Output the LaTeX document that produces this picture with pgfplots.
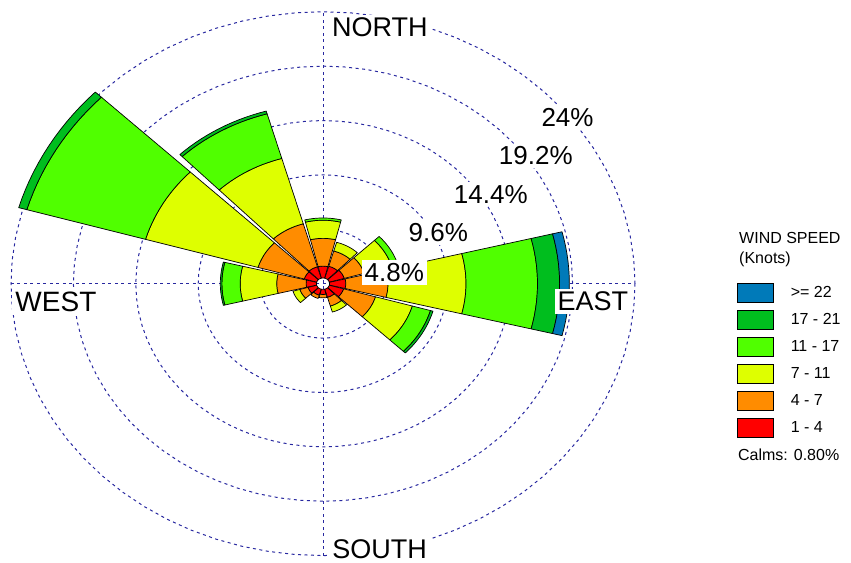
\documentclass[border=0pt]{standalone}
\usepackage{fontspec}
\setmainfont{Liberation Sans}
\usepackage{pgfplots}
\usepackage{pgfplotstable}
\pgfplotsset{compat=1.18}

\definecolor{bin1}{RGB}{255,0,0}
\definecolor{bin2}{RGB}{255,140,0}
\definecolor{bin3}{RGB}{222,255,0}
\definecolor{bin4}{RGB}{80,255,0}
\definecolor{bin5}{RGB}{0,190,30}
\definecolor{bin6}{RGB}{0,122,185}
\definecolor{gridblue}{RGB}{40,40,160}
\tikzset{gridline/.style={color=gridblue, line width=1pt, dash pattern=on 3pt off 3.5pt}}

% cumulative radius (%) of each speed class, direction in degrees clockwise from north
\pgfplotstableread{
dir r1 r2 r3 r4 r5 r6
0   1.55 4.0  5.6  5.8  5.8   5.8
30  1.6  3.0  3.8  3.8  3.8   3.8
60  1.7  3.3  5.5  6.0  6.0   6.0
90  1.75 5.0  11.0 16.5 18.2  18.95
120 1.65 4.2  7.15 8.6  8.8   8.8
150 1.25 2.05 2.6  2.6  2.6   2.6
180 0.95 1.25 1.25 1.25 1.25  1.25
210 1.05 1.35 1.35 1.35 1.35  1.35
240 1.2  1.85 2.4  2.4  2.4   2.4
270 1.3  3.56 6.37 7.78 7.9   7.9
300 1.5  5.2  14.2 23.7 24.35 24.35
330 1.55 5.5  11.5 15.6 15.85 15.85
}\rosetable

\newcommand\drawsector[4]{%
  \gdef\coords{}%
  \foreach \a in {-14,-12,...,14}{\pgfmathsetmacro\t{#1+\a}\xdef\coords{\coords(\t,#3)}}%
  \foreach \a in {14,12,...,-14}{\pgfmathsetmacro\t{#1+\a}\xdef\coords{\coords(\t,#2)}}%
  \edef\tmp{\noexpand\addplot[fill=#4, draw=black, line width=0.7pt, line join=round, data cs=polar, forget plot] coordinates {\coords} -- cycle;}%
  \tmp
}

\begin{document}
\begin{tikzpicture}
\begin{axis}[name=ax, scale only axis, width=851pt, height=563pt,
  xmin=-24.846, xmax=40.615, ymin=-24.652, ymax=25.04,
  hide axis, clip=false,
  legend image code/.code={\draw[#1, line width=0.7pt] (0pt,-9.5pt) rectangle (36pt,9.5pt);},
  legend style={at={(axis cs:31.85,0.1)}, anchor=north west, draw=none, fill=none,
    inner sep=0pt, outer sep=0pt, row sep=7.4pt, column sep=17pt,
    nodes={inner sep=0pt}, font=\fontsize{16}{19}\selectfont},
  legend cell align=left]

% grid
\foreach \R in {4.8,9.6,14.4,19.2,24}{%
  \gdef\coords{}%
  \foreach \a in {0,5,...,360}{\xdef\coords{\coords(\a,\R)}}%
  \edef\tmp{\noexpand\addplot[gridline, forget plot, data cs=polar] coordinates {\coords};}\tmp
}
\addplot[gridline, forget plot] coordinates {(-24,0) (24,0)};
\addplot[gridline, forget plot] coordinates {(0,-24) (0,24)};

% sectors
\foreach \row in {0,...,11}{%
  \pgfplotstablegetelem{\row}{dir}\of\rosetable
  \pgfmathsetmacro\myphi{90-\pgfplotsretval}%
  \xdef\prev{0.5}%
  \foreach \k in {1,...,6}{%
    \pgfplotstablegetelem{\row}{r\k}\of\rosetable
    \let\rk\pgfplotsretval
    \ifdim\rk pt>\prev pt
      \drawsector{\myphi}{\prev}{\rk}{bin\k}%
      \xdef\prev{\rk}%
    \fi
  }%
}

\addlegendimage{fill=bin6, draw=black}\addlegendentry{>= 22}
\addlegendimage{fill=bin5, draw=black}\addlegendentry{17 - 21}
\addlegendimage{fill=bin4, draw=black}\addlegendentry{11 - 17}
\addlegendimage{fill=bin3, draw=black}\addlegendentry{7 - 11}
\addlegendimage{fill=bin2, draw=black}\addlegendentry{4 - 7}
\addlegendimage{fill=bin1, draw=black}\addlegendentry{1 - 4}

\begin{scope}[every node/.style={fill=white, inner sep=3pt, font=\fontsize{26}{28}\selectfont}]
\node[anchor=west, font=\fontsize{27}{29}\selectfont] at (axis cs:0.46,22.61) {NORTH};
\node[anchor=west, font=\fontsize{27}{29}\selectfont] at (axis cs:0.48,-23.42) {SOUTH};
\node[anchor=west, font=\fontsize{28}{30}\selectfont] at (axis cs:-23.9,-1.59) {WEST};
\node[anchor=west, font=\fontsize{27}{29}\selectfont] at (axis cs:17.8,-1.54) {EAST};
\node at (axis cs:5.48,0.99) {4.8\%};
\node at (axis cs:8.87,4.52) {9.6\%};
\node at (axis cs:12.91,7.90) {14.4\%};
\node at (axis cs:16.37,11.29) {19.2\%};
\node at (axis cs:18.81,14.67) {24\%};
\end{scope}
\node[anchor=west, inner sep=0pt, font=\fontsize{16}{19}\selectfont] at (axis cs:32.0,4.03) {WIND SPEED};
\node[anchor=west, inner sep=0pt, font=\fontsize{16}{19}\selectfont] at (axis cs:32.0,2.18) {(Knots)};
\node[anchor=west, inner sep=0pt, font=\fontsize{16}{19}\selectfont] at (axis cs:31.92,-15.12) {Calms: 0.80\%};
\end{axis}
\pgfresetboundingbox
\path (ax.south west) rectangle (ax.north east);
\end{tikzpicture}
\end{document}
